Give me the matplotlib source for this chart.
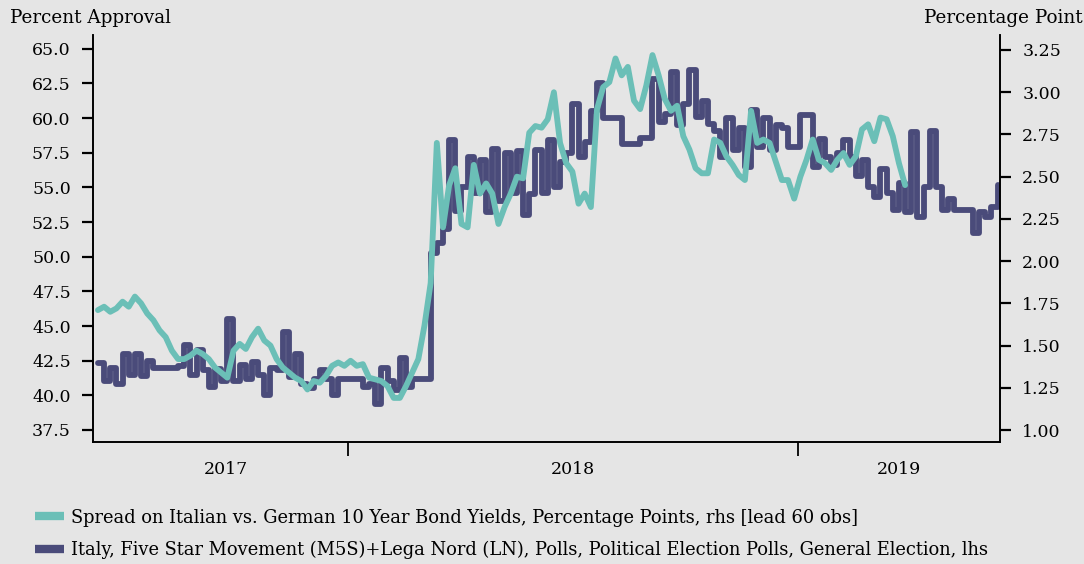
import pandas as pd
import matplotlib
matplotlib.use("Agg")
import matplotlib.pyplot as plt
from matplotlib.ticker import FormatStrFormatter, NullFormatter

# ---------------------------------
# Data (5-day spacing)
# ---------------------------------
polls_start = "2017-06-12"
polls_lhs = [
    42.3, 41.0, 42.0, 40.8, 43.0, 41.5, 43.0, 41.4, 42.5, 42.0,
    42.0, 42.0, 42.0, 42.1, 43.6, 41.5, 43.3, 41.8, 40.6, 41.9,
    41.0, 45.5, 41.0, 42.2, 41.2, 42.4, 41.5, 40.0, 42.0, 41.8,
    44.6, 41.3, 43.0, 40.8, 40.5, 41.2, 41.8, 41.2, 40.0, 41.2,
    41.2, 41.2, 41.2, 40.6, 40.8, 39.4, 42.0, 41.0, 40.4, 42.7,
    40.6, 41.2, 41.2, 41.2, 50.3, 51.0, 52.0, 58.4, 53.3, 55.0,
    57.2, 54.6, 57.0, 53.2, 57.8, 54.0, 57.5, 54.6, 57.6, 53.0,
    54.5, 57.7, 54.6, 58.4, 55.0, 56.8, 57.5, 61.0, 57.2, 58.3,
    60.5, 62.5, 60.0, 60.0, 60.0, 58.1, 58.1, 58.1, 58.6, 58.6,
    62.8, 59.7, 60.3, 63.3, 59.5, 61.0, 63.5, 60.1, 61.2, 59.6,
    59.1, 57.2, 60.0, 57.7, 59.3, 56.5, 60.6, 57.9, 60.0, 57.7,
    59.5, 59.3, 57.9, 57.9, 60.2, 60.2, 56.5, 58.5, 57.2, 56.6,
    57.5, 58.4, 57.2, 55.8, 57.0, 55.0, 54.3, 56.3, 54.6, 53.4,
    55.3, 53.2, 59.0, 52.9, 55.0, 59.1, 55.0, 53.4, 54.2, 53.4,
    53.4, 53.4, 51.7, 53.2, 52.9, 53.6, 55.2,
]

spread_start = "2017-06-12"
spread_rhs = [
    1.71, 1.73, 1.70, 1.72, 1.76, 1.73, 1.79, 1.75, 1.69, 1.65,
    1.59, 1.55, 1.47, 1.42, 1.42, 1.44, 1.47, 1.45, 1.42, 1.37,
    1.34, 1.31, 1.47, 1.51, 1.48, 1.55, 1.60, 1.53, 1.50, 1.42,
    1.37, 1.34, 1.31, 1.29, 1.24, 1.29, 1.28, 1.32, 1.38, 1.40,
    1.38, 1.41, 1.38, 1.39, 1.31, 1.30, 1.29, 1.26, 1.19, 1.19,
    1.26, 1.34, 1.42, 1.62, 1.87, 2.70, 2.20, 2.45, 2.55, 2.22,
    2.20, 2.57, 2.40, 2.46, 2.40, 2.22, 2.32, 2.40, 2.50, 2.49,
    2.76, 2.80, 2.79, 2.84, 3.00, 2.70, 2.58, 2.53, 2.34, 2.40,
    2.32, 2.90, 3.03, 3.06, 3.20, 3.10, 3.15, 2.95, 2.90, 3.04,
    3.22, 3.10, 2.96, 2.89, 2.92, 2.74, 2.66, 2.55, 2.52, 2.52,
    2.72, 2.70, 2.62, 2.57, 2.51, 2.48, 2.89, 2.70, 2.72, 2.70,
    2.59, 2.48, 2.48, 2.37, 2.50, 2.60, 2.72, 2.60, 2.58, 2.54,
    2.60, 2.64, 2.57, 2.62, 2.78, 2.81, 2.71, 2.85, 2.84, 2.74,
    2.58, 2.45,
]

year_labels = ["2017", "2018", "2019"]
year_label_dates = ["2017-09-24", "2018-07-02", "2019-03-24"]
year_tick_dates = ["2018-01-01", "2019-01-01"]

label_spread = "Spread on Italian vs. German 10 Year Bond Yields, Percentage Points, rhs [lead 60 obs]"
label_polls = "Italy, Five Star Movement (M5S)+Lega Nord (LN), Polls, Political Election Polls, General Election, lhs"

# ---------------------------------
# Style
# ---------------------------------
bg = "#e5e5e5"
teal = "#6bbfb7"
navy = "#4a4b7a"
plt.rcParams["font.family"] = ["DejaVu Serif"]
plt.rcParams["font.size"] = 12.5

polls_dates = pd.date_range(polls_start, periods=len(polls_lhs), freq="5D")
spread_dates = pd.date_range(spread_start, periods=len(spread_rhs), freq="5D")

fig = plt.figure(figsize=(10.84, 5.64), dpi=100, facecolor=bg)
ax = fig.add_axes([0.0858, 0.2163, 0.8367, 0.7217], facecolor=bg)
ax2 = ax.twinx()

ax.plot(polls_dates, polls_lhs, color=navy, lw=4.2, drawstyle="steps-post",
        solid_joinstyle="round", solid_capstyle="round", label=label_polls)
ax2.plot(spread_dates, spread_rhs, color=teal, lw=4.2,
         solid_joinstyle="round", solid_capstyle="round", label=label_spread)

ax.set_xlim(pd.Timestamp("2017-06-08"), pd.Timestamp("2019-06-14"))
ax.set_ylim(36.63, 66.0)
ax2.set_ylim(0.929, 3.339)

ax.set_yticks([37.5, 40.0, 42.5, 45.0, 47.5, 50.0, 52.5, 55.0, 57.5, 60.0, 62.5, 65.0])
ax.yaxis.set_major_formatter(FormatStrFormatter("%.1f"))
ax2.set_yticks([1.00, 1.25, 1.50, 1.75, 2.00, 2.25, 2.50, 2.75, 3.00, 3.25])
ax2.yaxis.set_major_formatter(FormatStrFormatter("%.2f"))

ax.set_xticks(pd.to_datetime(year_tick_dates))
ax.xaxis.set_major_formatter(NullFormatter())
ax.set_xticks(pd.to_datetime(year_label_dates), minor=True)
ax.set_xticklabels(year_labels, minor=True)
ax.tick_params(axis="x", which="major", length=10, width=1.3, direction="out")
ax.tick_params(axis="x", which="minor", length=0, pad=14)

ax.tick_params(axis="y", length=8, width=1.6, direction="out", pad=8)
ax2.tick_params(axis="y", length=8, width=1.6, direction="out", pad=8)

for a in (ax, ax2):
    a.spines["top"].set_visible(False)
    a.spines["left"].set_linewidth(1.2)
    a.spines["right"].set_linewidth(1.2)
    a.spines["bottom"].set_linewidth(1.2)
ax2.patch.set_visible(False)

fig.text(0.009, 0.968, "Percent Approval", ha="left", va="center", fontsize=13.2)
fig.text(0.999, 0.968, "Percentage Point", ha="right", va="center", fontsize=13.2)

h1, l1 = ax2.get_legend_handles_labels()
h2, l2 = ax.get_legend_handles_labels()
leg = fig.legend(h1 + h2, l1 + l2, loc="upper left", bbox_to_anchor=(0.026, 0.111),
                 frameon=False, handlelength=1.6, handletextpad=0.4,
                 labelspacing=0.8, borderaxespad=0, fontsize=12.9)
for line in leg.get_lines():
    line.set_linewidth(6)
    line.set_solid_capstyle("butt")

fig.savefig("out.png", dpi=100, facecolor=bg)
